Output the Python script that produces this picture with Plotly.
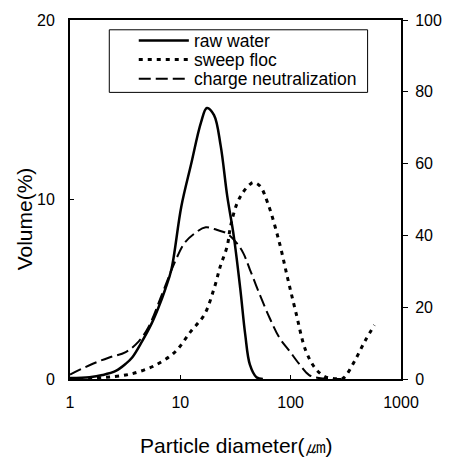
import plotly.graph_objects as go

raw_x = [1.0, 1.5, 1.97, 2.6, 3.2, 3.66, 4.5, 5.5, 6.3, 7.3, 8.3, 10.2, 12.5, 15.4, 17.4, 20.2, 23.2, 26.6, 30.5, 34.9, 38.7, 42.7, 49.0, 56.0]
raw_y = [0.05, 0.1, 0.22, 0.45, 0.85, 1.2, 2.1, 3.1, 3.94, 5.0, 6.1, 9.6, 11.95, 14.3, 15.1, 14.7, 13.0, 10.2, 7.96, 5.05, 2.5, 0.8, 0.1, 0.0]

sweep_x = [1.0, 2.0, 3.2, 4.2, 5.9, 8.9, 12.5, 16.5, 20.2, 23.1, 26.6, 28.5, 32.5, 37.0, 42.7, 46.0, 52.7, 62.4, 79.0, 94.0, 111.0, 137.0, 168.0, 206.0, 250.0, 290.0, 310.0, 380.0, 470.0, 575.0]
sweep_y = [0.0, 0.08, 0.22, 0.4, 0.76, 1.49, 2.67, 3.58, 5.03, 6.3, 7.4, 8.5, 9.75, 10.4, 10.84, 10.95, 10.75, 9.75, 7.6, 5.6, 3.76, 1.58, 0.58, 0.12, 0.02, 0.0, 0.12, 1.0, 2.1, 3.0]

charge_x = [1.0, 1.61, 2.27, 3.2, 4.2, 5.15, 6.8, 8.9, 10.9, 13.4, 17.0, 21.6, 26.6, 32.5, 37.3, 42.7, 52.7, 64.5, 79.0, 97.0, 119.0, 147.0, 180.0, 220.0, 290.0]
charge_y = [0.25, 0.85, 1.2, 1.5, 2.1, 2.9, 4.7, 6.5, 7.57, 8.1, 8.45, 8.3, 8.1, 7.57, 7.0, 6.1, 4.67, 3.4, 2.3, 1.58, 0.85, 0.22, 0.05, 0.0, 0.0]

series_names = ["raw water", "sweep floc", "charge neutralization"]

x_ticks = [1, 10, 100, 1000]
y_left_ticks = [0, 10, 20]
y_right_ticks = [0, 20, 40, 60, 80, 100]

x_title = "Particle diameter(㎛)"
y_title = "Volume(%)"

FONT = "Liberation Sans, Arial, sans-serif"

styles = [
    dict(color="black", width=2.5),
    dict(color="black", width=3, dash="4px,5px"),
    dict(color="black", width=2, dash="12px,5px"),
]

fig = go.Figure()
for xs, ys, name, st in zip([raw_x, sweep_x, charge_x], [raw_y, sweep_y, charge_y], series_names, styles):
    fig.add_trace(go.Scatter(x=xs, y=ys, mode="lines", name=name,
                             line=dict(shape="spline", **st), showlegend=False))
# invisible trace to activate the right axis
fig.add_trace(go.Scatter(x=[1, 1000], y=[0, 100], yaxis="y2", mode="lines",
                         line=dict(color="rgba(0,0,0,0)"), showlegend=False, hoverinfo="skip"))

# plot-area pixel geometry (for legend placement)
L, R, T, B = 70, 407, 12, 379


def px_x(p):
    return (p - L) / (R - L)


def px_y(p):
    return (B - p) / (B - T)


shapes = [dict(type="rect", xref="paper", yref="paper",
               x0=px_x(110), x1=px_x(373), y0=px_y(86), y1=px_y(22),
               line=dict(color="black", width=1), fillcolor="white", layer="above")]
annotations = []
for i, (name, st) in enumerate(zip(series_names, styles)):
    yy = px_y(33 + i * 19.5)
    shapes.append(dict(type="line", xref="paper", yref="paper",
                       x0=px_x(140), x1=px_x(191), y0=yy, y1=yy, layer="above",
                       line=st))
    annotations.append(dict(text=name, xref="paper", yref="paper", x=px_x(194), y=yy,
                            xanchor="left", yanchor="middle", showarrow=False,
                            font=dict(size=17.5)))

annotations += [
    dict(text=x_title, xref="paper", yref="paper", x=0.504, y=-0.185,
         xanchor="center", yanchor="middle", showarrow=False, font=dict(size=21)),
    dict(text=y_title, xref="paper", yref="paper", x=-0.1365, y=0.447,
         xanchor="center", yanchor="middle", showarrow=False, textangle=-90,
         font=dict(size=21)),
]

fig.update_layout(
    width=454, height=461,
    margin=dict(l=L, r=454 - R, t=T, b=461 - B),
    paper_bgcolor="white", plot_bgcolor="white",
    font=dict(family=FONT, color="black", size=16),
    xaxis=dict(type="log", range=[0, 3], tickvals=x_ticks, ticktext=[str(v) for v in x_ticks],
               showgrid=False, zeroline=False, showline=True, linecolor="black", linewidth=2,
               mirror=True, ticks="inside", ticklen=4, tickcolor="black",
               ticklabelstandoff=8),
    yaxis=dict(range=[0, 20], tickvals=y_left_ticks, showgrid=False, zeroline=False,
               showline=True, linecolor="black", linewidth=2, ticks="inside", ticklen=4,
               tickcolor="black", ticklabelstandoff=10),
    yaxis2=dict(range=[0, 100], tickvals=y_right_ticks, overlaying="y", side="right",
                showgrid=False, zeroline=False, showline=True, linecolor="black", linewidth=2,
                ticks="outside", ticklen=5, tickcolor="black", ticklabelstandoff=4),
    showlegend=False,
    shapes=shapes,
    annotations=annotations,
)

fig.write_html("out.html", config={"displayModeBar": False},
               post_script="document.body.style.margin='0';")
